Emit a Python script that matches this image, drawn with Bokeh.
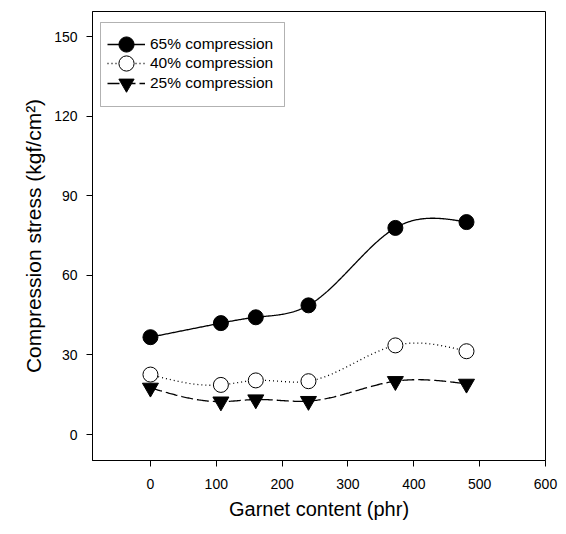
import numpy as np
from bokeh.plotting import figure
from bokeh.models import Legend, LegendItem, Range1d, FixedTicker, BoxAnnotation
from bokeh.embed import file_html
from bokeh.resources import INLINE

# Data
garnet = [0, 107, 160, 240, 372, 480]
comp65 = [36.7, 42.0, 44.2, 48.7, 77.9, 80.1]
comp40 = [22.6, 18.7, 20.4, 20.1, 33.6, 31.4]
comp25 = [17.6, 12.4, 13.2, 12.6, 20.1, 19.1]
x_ticks = [0, 100, 200, 300, 400, 500, 600]
y_ticks = [0, 30, 60, 90, 120, 150]


def natural_spline(x, y, n=300):
    x = np.asarray(x, float)
    y = np.asarray(y, float)
    k = len(x)
    h = np.diff(x)
    A = np.zeros((k, k))
    b = np.zeros(k)
    A[0, 0] = 1
    A[-1, -1] = 1
    for i in range(1, k - 1):
        A[i, i - 1] = h[i - 1]
        A[i, i] = 2 * (h[i - 1] + h[i])
        A[i, i + 1] = h[i]
        b[i] = 6 * ((y[i + 1] - y[i]) / h[i] - (y[i] - y[i - 1]) / h[i - 1])
    M = np.linalg.solve(A, b)
    xs = np.linspace(x[0], x[-1], n)
    ys = np.empty_like(xs)
    for j, xv in enumerate(xs):
        i = min(np.searchsorted(x, xv, side="right") - 1, k - 2)
        t1 = x[i + 1] - xv
        t0 = xv - x[i]
        ys[j] = (M[i] * t1 ** 3 / (6 * h[i]) + M[i + 1] * t0 ** 3 / (6 * h[i])
                 + (y[i] / h[i] - M[i] * h[i] / 6) * t1
                 + (y[i + 1] / h[i] - M[i + 1] * h[i] / 6) * t0)
    return xs, ys


FONT = "Liberation Sans"

p = figure(width=558, height=522, output_backend="svg", toolbar_location=None,
           x_range=Range1d(-88, 600), y_range=Range1d(-9.8, 159.5),
           min_border_left=92, min_border_right=13, min_border_top=11,
           min_border_bottom=59)
p.grid.visible = False
p.outline_line_color = "black"
p.outline_line_width = 1
p.background_fill_color = "white"
p.border_fill_color = "white"

for ax in (p.xaxis[0], p.yaxis[0]):
    ax.axis_line_color = "black"
    ax.major_tick_line_color = "black"
    ax.major_tick_out = 6
    ax.major_tick_in = 0
    ax.minor_tick_line_color = None
    ax.major_label_text_font = FONT
    ax.major_label_text_font_size = "14px"
    ax.major_label_text_color = "black"
    ax.axis_label_text_font = FONT
    ax.axis_label_text_font_style = "normal"
    ax.axis_label_text_color = "black"

p.xaxis.axis_label_text_font_size = "20px"
p.yaxis.axis_label_text_font_size = "21px"
p.xaxis.ticker = FixedTicker(ticks=x_ticks)
p.yaxis.ticker = FixedTicker(ticks=y_ticks)
p.xaxis.axis_label = "Garnet content (phr)"
p.yaxis.axis_label = "Compression stress (kgf/cm²)"
p.xaxis.major_label_standoff = 12
p.xaxis.axis_label_standoff = 6
p.yaxis.major_label_standoff = 9
p.yaxis.axis_label_standoff = 6

series = [
    ("65% compression", comp65, "solid", "circle", "black"),
    ("40% compression", comp40, "1 3", "circle", "white"),
    ("25% compression", comp25, "12 4", "inverted_triangle", "black"),
]

# legend frame (screen units, relative to the plot frame)
box = BoxAnnotation(left=8, right=192, top=438, bottom=354,
                    left_units="screen", right_units="screen",
                    top_units="screen", bottom_units="screen",
                    fill_color="white", fill_alpha=1,
                    line_color="black", line_width=1)
p.add_layout(box)

legend_bottoms = [397, 378, 358]
for (label, ys, dash, marker, fill), vy in zip(series, legend_bottoms):
    sx, sy = natural_spline(garnet, ys)
    ln = p.line(sx, sy, line_color="black", line_width=1.3, line_dash=dash)
    sc = p.scatter(garnet, ys, marker=marker, size=15 if marker == "circle" else 16,
                   fill_color=fill, line_color="black", line_width=1)
    leg = Legend(items=[LegendItem(label=label, renderers=[ln, sc])],
                 location=(15, vy), padding=0, spacing=0,
                 glyph_width=38, glyph_height=38, label_height=20,
                 label_standoff=5, label_width=129,
                 label_text_font=FONT, label_text_font_size="15.5px",
                 label_text_color="black",
                 border_line_color=None, background_fill_alpha=0)
    p.add_layout(leg, "center")

open("out.html", "w").write(file_html(p, INLINE))
